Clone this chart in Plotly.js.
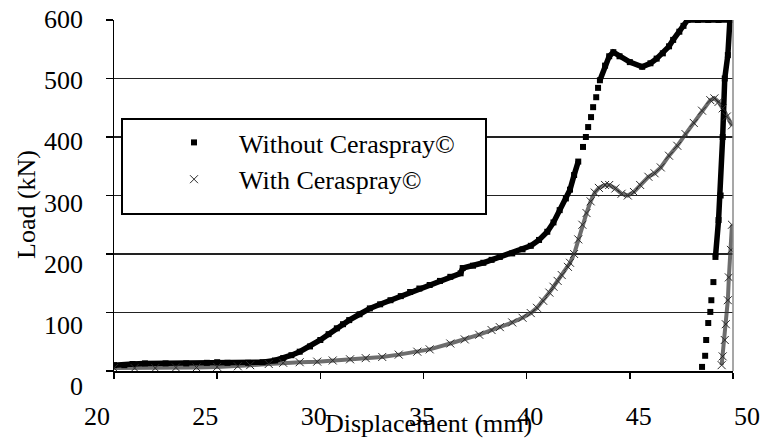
<!DOCTYPE html>
<html>
<head>
<meta charset="utf-8">
<script src="https://cdn.plot.ly/plotly-3.0.1.min.js"></script>
<style>html,body{margin:0;padding:0;background:#fff;}#chart{width:761px;height:448px;}</style>
</head>
<body>
<div id="chart"></div>
<script>
// ---- Data ----
// Without Ceraspray: dense loading branch (part 1)
var woX1 = [20.0,20.5,20.9,21.5,22.5,23.5,24.5,25.0,25.5,26.5,27.2,27.8,28.2,28.6,29.0,29.5,30.0,30.4,30.8,31.1,31.4,31.9,32.4,32.9,33.4,33.9,34.35,34.8,35.3,35.8,36.3,36.8,36.9,37.4,37.9,38.3,38.7,39.3,39.8,40.2,40.6,41.0,41.3,41.6,41.9,42.1,42.3,42.5];
var woY1 = [10,10,12,13,13,13,14,15,14,14,15,18,22,27,33,42,53,63,73,80,87,97,107,114,121,128,135,141,147,154,161,167,176,180,185,190,195,201,208,214,224,238,254,275,295,310,335,358];
// Without Ceraspray: sparse rise (single squares)
var woXr = [42.73,42.87,42.98,43.12,43.22,43.37,43.46];
var woYr = [383,400,417,434,451,468,484];
// Without Ceraspray: dense branch after the rise, up to the top
var woX2 = [43.55,43.8,44.0,44.2,44.5,45.0,45.6,46.0,46.3,46.6,46.9,47.1,47.4,47.6,47.8,48.3,48.8,49.3,49.85,49.75,49.6,49.5,49.4,49.3,49.15];
var woY2 = [497,522,538,545,538,528,520,526,534,543,555,566,580,590,600,600,600,600,600,540,500,400,300,258,195];
// Without Ceraspray: sparse unloading squares
var woXu = [49.05,48.95,48.9,48.8,48.7,48.65,48.5];
var woYu = [152,121,101,82,53,26,7];

// With Ceraspray: loading branch
var wX = [20.0,21,22,23,24,25,26,26.6,27.5,28.2,29.0,29.85,30.6,31.44,32.2,33.0,33.8,34.7,35.3,36.3,37.0,37.7,38.3,38.7,39.3,39.8,40.2,40.5,40.8,41.1,41.3,41.5,41.7,42.0,42.1,42.3,42.5,42.7,42.9,43.1,43.3,43.5,43.8,44.0,44.3,44.6,44.9,45.2,45.5,45.9,46.2,46.5,46.9,47.3,47.7,48.1,48.5,48.9,49.1,49.3,49.5,49.7,49.95];
var wY = [5,5,5,6,6,7,8,10,12,14,15,16,18,20,22,24,28,33,37,47,54,62,70,75,83,91,99,108,120,134,144,154,164,178,185,200,225,250,270,290,305,313,318,318,312,303,300,306,318,332,338,348,368,385,405,424,445,463,466,460,449,435,420];
// With Ceraspray: unloading branch
var wXu = [49.95,49.9,49.8,49.75,49.65,49.6,49.5,49.45];
var wYu = [250,207,160,121,80,53,25,10];

// Axes / labels
var xTicks = [20,25,30,35,40,45,50];
var yTicks = [0,100,200,300,400,500,600];
var seriesNames = ['Without Ceraspray©','With Ceraspray©'];
var xTitle = 'Displacement (mm)';
var yTitle = 'Load (kN)';

// ---- Build traces ----
var FONT = 'Liberation Serif, Times New Roman, serif';
var W = 761, H = 448;
function px(v){return v/W;}
function py(v){return 1 - v/H;}

var woLineX = woX1.concat([null], woX2);
var woLineY = woY1.concat([null], woY2);
var woAllX = woX1.concat(woXr, woX2, woXu);
var woAllY = woY1.concat(woYr, woY2, woYu);
var wLineX = wX.concat([null], wXu);
var wLineY = wY.concat([null], wYu);

var traces = [
  {x: [xTicks[0]], y: [yTicks[0]], xaxis: 'x2', yaxis: 'y2', mode: 'markers', marker: {opacity: 0}, showlegend: false, hoverinfo: 'skip'},
  {x: wLineX, y: wLineY, mode: 'lines', line: {color: 'rgba(60,60,60,0.75)', width: 4}, showlegend: false, hoverinfo: 'skip', connectgaps: false},
  {x: woLineX, y: woLineY, mode: 'lines', line: {color: '#000', width: 5.5}, showlegend: false, hoverinfo: 'skip', connectgaps: false},
  {x: woAllX, y: woAllY, mode: 'markers', name: seriesNames[0], marker: {symbol: 'square', size: 6, color: '#000'}},
  {x: wX.concat(wXu), y: wY.concat(wYu), mode: 'markers', name: seriesNames[1], marker: {symbol: 'x-thin', size: 8, color: '#2a2a2a', line: {color: '#2a2a2a', width: 1}}}
];

var layout = {
  width: W, height: H,
  margin: {l: 0, r: 0, t: 0, b: 0},
  paper_bgcolor: '#fff', plot_bgcolor: 'rgba(0,0,0,0)',
  font: {family: FONT, size: 26, color: '#000'},
  showlegend: true,
  legend: {x: px(149), y: py(119), xanchor: 'left', yanchor: 'top', bgcolor: 'rgba(0,0,0,0)', borderwidth: 0, itemwidth: 80, font: {family: FONT, size: 26, color: '#000'}, tracegroupgap: 0},
  xaxis: {domain: [px(114), px(733)], range: [20, 50], tickvals: xTicks, showticklabels: false, ticks: 'outside', ticklen: 6, tickwidth: 1.5, tickcolor: '#000', showgrid: false, zeroline: false, showline: true, linecolor: '#000', linewidth: 1.5, anchor: 'y', fixedrange: true},
  yaxis: {domain: [py(371), py(20)], range: [0, 600], tickvals: yTicks, showticklabels: false, ticks: 'outside', ticklen: 7, tickwidth: 1.5, tickcolor: '#000', showgrid: true, gridcolor: '#222', gridwidth: 1.5, zeroline: false, showline: true, linecolor: '#000', linewidth: 1.5, anchor: 'x', fixedrange: true},
  xaxis2: {domain: [px(97), px(747)], range: [20, 50], tickvals: xTicks, ticktext: xTicks.map(String), anchor: 'free', position: py(398), showgrid: false, zeroline: false, showline: false, ticks: '', tickfont: {family: FONT, size: 26, color: '#000'}, fixedrange: true},
  yaxis2: {domain: [py(386), py(19)], range: [0, 600], tickvals: yTicks, ticktext: yTicks.map(String), anchor: 'free', position: px(83), showgrid: false, zeroline: false, showline: false, ticks: '', tickfont: {family: FONT, size: 26, color: '#000'}, fixedrange: true},
  shapes: [
    {type: 'line', xref: 'x domain', yref: 'y domain', x0: 1, x1: 1, y0: 0, y1: 1, line: {color: '#8a8a8a', width: 1.5}},
    {type: 'rect', xref: 'paper', yref: 'paper', x0: px(122), x1: px(486), y0: py(214), y1: py(119), line: {color: '#000', width: 2}, fillcolor: '#fff', layer: 'above'}
  ],
  annotations: [
    {text: xTitle, xref: 'paper', yref: 'paper', x: px(428), y: py(423), xanchor: 'center', yanchor: 'middle', showarrow: false, font: {family: FONT, size: 26, color: '#000'}},
    {text: yTitle, xref: 'paper', yref: 'paper', x: px(26), y: py(205), xanchor: 'center', yanchor: 'middle', textangle: -90, showarrow: false, font: {family: FONT, size: 26, color: '#000'}}
  ]
};

Plotly.newPlot('chart', traces, layout, {displayModeBar: false, staticPlot: true});
</script>
</body>
</html>
